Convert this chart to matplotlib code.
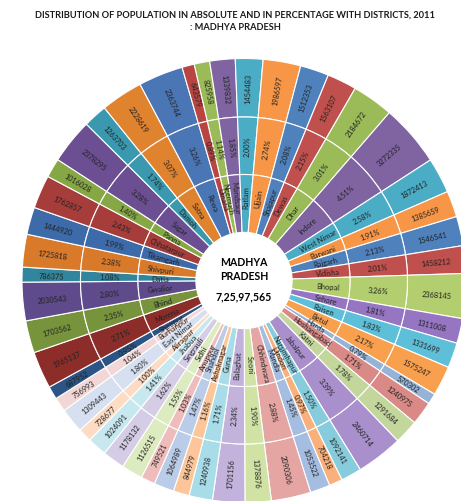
import numpy as np
import matplotlib.pyplot as plt

plt.rcParams['font.family'] = ['Lato', 'DejaVu Sans']

# districts in clockwise order, starting just left of the top
districts = ['Neemuch', 'Mandsaur', 'Ratlam', 'Ujjain', 'Shajapur', 'Dewas', 'Dhar', 'Indore',
             'West Nimar', 'Barwani', 'Rajgarh', 'Vidisha', 'Bhopal', 'Sehore', 'Raisen', 'Betul',
             'Harda', 'Hoshangabad', 'Katni', 'Jabalpur', 'Narsimhapur', 'Dindori', 'Mandla',
             'Chhindwara', 'Seoni', 'Balaghat', 'Guna', 'Ashoknagar', 'Shahdol', 'Anuppur', 'Sidhi',
             'Singrauli', 'Jhabua', 'Alirajpur', 'East Nimar', 'Burhanpur', 'Sheopur', 'Morena',
             'Bhind', 'Gwalior', 'Datia', 'Shivpuri', 'Tikamgarh', 'Chhatarpur', 'Panna', 'Sagar',
             'Damoh', 'Satna', 'Rewa', 'Umaria']
population = [825958, 1339832, 1454483, 1986597, 1512353, 1563107, 2184672, 3272335,
              1872413, 1385659, 1546541, 1458212, 2368145, 1311008, 1331699, 1575247,
              570302, 1240975, 1291684, 2460714, 1092141, 704218, 1053522,
              2090306, 1378876, 1701156, 1240938, 844979, 1064989, 749521, 1126515,
              1178132, 1024091, 728677, 1309443, 756993, 687952, 1965137,
              1703562, 2030543, 786375, 1725818, 1444920, 1762857, 1016028, 2378295,
              1263703, 2228619, 2363744, 643579]
colors = ['#9BBB59', '#8064A2', '#4BACC6', '#F79646', '#4F81BD', '#C0504D', '#9BBB59', '#8064A2',
          '#4BACC6', '#F79646', '#4F81BD', '#C0504D', '#B3CE6E', '#9675C2', '#5EBFD9', '#F9A04E',
          '#95B3D7', '#D98A87', '#C3D69B', '#A990CC', '#86CCDD', '#FAB07A', '#A4BDE0',
          '#E4A5A3', '#D0E3A5', '#C3B2DC', '#A8DCE8', '#FCC59A', '#BACCE8', '#EDBCBB', '#DDEBC0',
          '#D5CCE6', '#C8E8F0', '#FDDCC3', '#D6E0F0', '#F2D7D6', '#2C5585', '#8C2D2A',
          '#77933C', '#5F4B8B', '#31859C', '#D97A2B', '#3D6AA8', '#A63D3A', '#86A844', '#6B4F92',
          '#3A99AE', '#E0832F', '#4A76B5', '#B84542']

total = sum(population)
pct = [p / total * 100 for p in population]


def indian(n):
    s = str(n)
    head, tail = s[:-3], s[-3:]
    parts = []
    while len(head) > 2:
        parts.insert(0, head[-2:])
        head = head[:-2]
    if head:
        parts.insert(0, head)
    return ','.join(parts + [tail])


W, H = 461, 502
cx, cy = 244, 281.5
r_out, r_mid, r_in, r_hole = 222, 163.5, 106, 48

fig = plt.figure(figsize=(W / 100, H / 100), dpi=100)
ax = fig.add_axes([0, 0, 1, 1])

start = 103
edge = dict(edgecolor='white', linewidth=0.8)
w_out, _ = ax.pie(population, radius=r_out, startangle=start, counterclock=False,
                  colors=colors, wedgeprops=dict(width=r_out - r_mid, **edge))
w_mid, _ = ax.pie(population, radius=r_mid, startangle=start, counterclock=False,
                  colors=colors, wedgeprops=dict(width=r_mid - r_in, **edge))
w_in, _ = ax.pie(population, radius=r_in, startangle=start, counterclock=False,
                 colors=colors, wedgeprops=dict(width=r_in - r_hole + 2, **edge))
ax.add_patch(plt.Circle((0, 0), r_hole, color='white', zorder=3))


def ring_labels(wedges, texts, r, size):
    for w, t in zip(wedges, texts):
        a = (w.theta1 + w.theta2) / 2
        x, y = r * np.cos(np.radians(a)), r * np.sin(np.radians(a))
        a = a % 360
        if 90 <= a < 270:
            rot = a - 180
        elif a < 90:
            rot = a
        else:
            rot = a - 360
        ax.text(x, y, t, rotation=rot, rotation_mode='anchor', ha='center', va='center',
                fontsize=size, color='#222222', zorder=4)


ring_labels(w_out, [str(p) for p in population], 193, 5.3)
ring_labels(w_mid, ['%.2f%%' % p for p in pct], 134.5, 5.3)
ring_labels(w_in, districts, 84, 5.4)

ax.text(0, cy - 262, 'MADHYA', ha='center', va='center', fontsize=7.6, fontweight='bold', zorder=5)
ax.text(0, cy - 276, 'PRADESH', ha='center', va='center', fontsize=7.6, fontweight='bold', zorder=5)
ax.text(0, cy - 297, indian(total), ha='center', va='center', fontsize=7.6, fontweight='bold', zorder=5)

ax.set_xlim(-cx, W - cx)
ax.set_ylim(-(H - cy), cy)
ax.set_aspect('equal')
ax.axis('off')

fig.text(235 / W, 1 - 15 / H, 'DISTRIBUTION OF POPULATION IN ABSOLUTE AND IN PERCENTAGE WITH DISTRICTS, 2011',
         ha='center', va='center', fontsize=6.7, fontweight='bold', color='#1a1a1a')
fig.text(235 / W, 1 - 28 / H, ': MADHYA PRADESH', ha='center', va='center',
         fontsize=6.7, fontweight='bold', color='#1a1a1a')

fig.savefig('out.png', dpi=100)
